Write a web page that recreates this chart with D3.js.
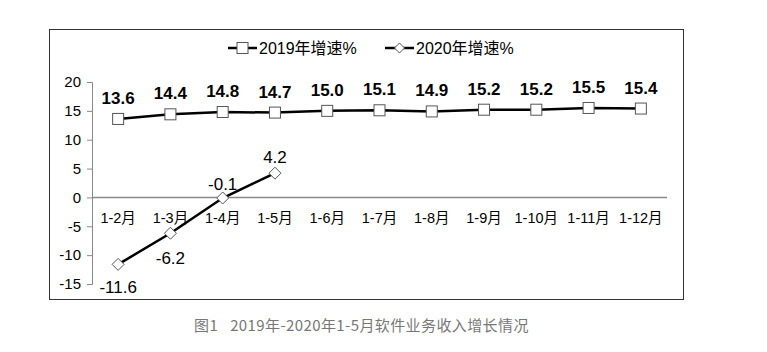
<!DOCTYPE html>
<html><head><meta charset="utf-8">
<script src="https://cdn.jsdelivr.net/npm/d3@7"></script>
<style>body{margin:0;background:#fff;} svg{display:block;font-family:"Liberation Sans",Arial,"Noto Sans CJK SC",sans-serif;}</style>
</head><body>
<svg id="c" width="767" height="352"></svg>
<script>
const categories = ["1-2月","1-3月","1-4月","1-5月","1-6月","1-7月","1-8月","1-9月","1-10月","1-11月","1-12月"];
const growth2019 = [13.6,14.4,14.8,14.7,15.0,15.1,14.9,15.2,15.2,15.5,15.4];
const growth2020 = [-11.6,-6.2,-0.1,4.2];
const yTicks = [-15,-10,-5,0,5,10,15,20];
const seriesNames = ["2019年增速%","2020年增速%"];
const captionParts = ["图1", "2019年-2020年1-5月软件业务收入增长情况"];

const fmt1 = d => d.toFixed(1);
const svg = d3.select("#c");
// outer frame
svg.append("rect").attr("x",49.5).attr("y",29.5).attr("width",634).attr("height",270)
  .attr("fill","none").attr("stroke","#333").attr("stroke-width",1);

const x = d3.scaleBand().domain(categories).range([92,667]);
const y = d3.scaleLinear().domain([-15,20]).range([284,82]);

// y axis
const ya = svg.append("g").attr("transform","translate(92,0)")
  .call(d3.axisLeft(y).tickValues(yTicks).tickSize(5).tickPadding(6).tickFormat(d => String(d)));
ya.select(".domain").attr("stroke","#888");
ya.selectAll(".tick line").attr("stroke","#888");
ya.selectAll(".tick text").attr("font-size",15).attr("fill","#000");

// zero line
svg.append("line").attr("x1",92).attr("x2",667).attr("y1",y(0)).attr("y2",y(0))
  .attr("stroke","#888").attr("stroke-width",1.5);

// x labels
svg.append("g").selectAll("text").data(categories).join("text")
  .attr("x",d=>x(d)+x.bandwidth()/2).attr("y",y(0)+26)
  .attr("text-anchor","middle").attr("font-size",14.5).text(d=>d);

const cx = (i)=>x(categories[i])+x.bandwidth()/2;
const line = d3.line().x((d,i)=>cx(i)).y(d=>y(d));

// 2019
svg.append("path").datum(growth2019).attr("d",line).attr("fill","none").attr("stroke","#000").attr("stroke-width",2.5);
svg.append("g").selectAll("rect").data(growth2019).join("rect")
  .attr("x",(d,i)=>cx(i)-5.5).attr("y",d=>y(d)-5.5).attr("width",11).attr("height",11)
  .attr("fill","#fff").attr("stroke","#555").attr("stroke-width",1);
svg.append("g").selectAll("text").data(growth2019).join("text")
  .attr("x",(d,i)=>cx(i)).attr("y",d=>y(d)-15)
  .attr("text-anchor","middle").attr("font-size",17).attr("font-weight","bold")
  .text(fmt1);

// 2020
svg.append("path").datum(growth2020).attr("d",line).attr("fill","none").attr("stroke","#000").attr("stroke-width",2.5);
svg.append("g").selectAll("path").data(growth2020).join("path")
  .attr("d",(d,i)=>`M${cx(i)},${y(d)-6}L${cx(i)+6},${y(d)}L${cx(i)},${y(d)+6}L${cx(i)-6},${y(d)}Z`)
  .attr("fill","#fff").attr("stroke","#555").attr("stroke-width",1);
const off2020 = [[0,29],[0,31],[0,-8],[0,-10]];
svg.append("g").selectAll("text").data(growth2020).join("text")
  .attr("x",(d,i)=>cx(i)+off2020[i][0]).attr("y",(d,i)=>y(d)+off2020[i][1])
  .attr("text-anchor","middle").attr("font-size",17)
  .text(fmt1);

// legend
const lg = svg.append("g");
lg.append("line").attr("x1",228).attr("x2",257).attr("y1",48).attr("y2",48).attr("stroke","#000").attr("stroke-width",2.5);
lg.append("rect").attr("x",237).attr("y",42.5).attr("width",11).attr("height",11).attr("fill","#fff").attr("stroke","#555");
lg.append("text").attr("x",259).attr("y",54).attr("font-size",16).text(seriesNames[0]);
lg.append("line").attr("x1",385).attr("x2",414).attr("y1",48).attr("y2",48).attr("stroke","#000").attr("stroke-width",2.5);
lg.append("path").attr("d","M399.5,43L404.5,48L399.5,53L394.5,48Z").attr("fill","#fff").attr("stroke","#555");
lg.append("text").attr("x",416).attr("y",54).attr("font-size",16).text(seriesNames[1]);

// caption
const cap = svg.append("text").attr("x",194).attr("y",331)
  .attr("font-size",15).attr("fill","#777").attr("letter-spacing","0.4px")
  .attr("font-family","'Noto Sans CJK SC',sans-serif");
cap.append("tspan").text(captionParts[0]);
cap.append("tspan").attr("dx",12).text(captionParts[1]);
</script>
</body></html>
